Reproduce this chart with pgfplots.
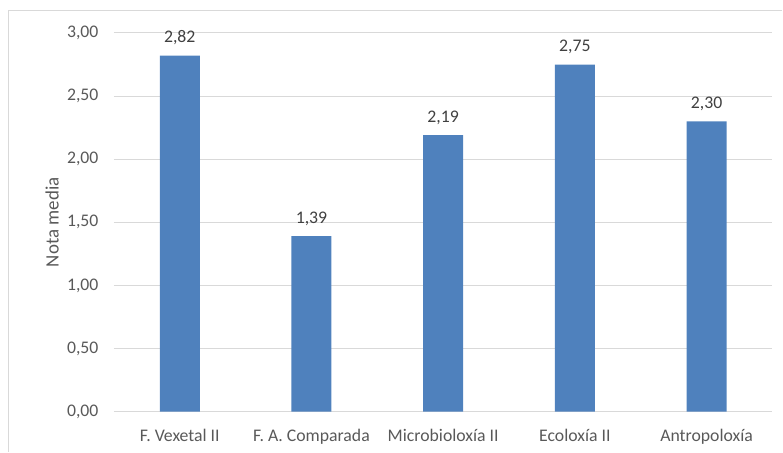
\documentclass[border=0pt]{standalone}
\usepackage{pgfplots}
\pgfplotsset{compat=1.18}
\usepackage{fontspec}
\setmainfont{Carlito}
\definecolor{barblue}{HTML}{4F81BD}
\definecolor{gridc}{HTML}{D9D9D9}
\definecolor{txt}{HTML}{595959}
\definecolor{lbl}{HTML}{404040}
\begin{document}
\begin{tikzpicture}[x=1bp,y=1bp]
\path (0,0) rectangle (783,452);
\draw[gridc, line width=1.2bp] (8.5,0) -- (8.5,441.5) -- (783,441.5);
\begin{axis}[
  at={(114bp,40bp)}, anchor=south west,
  scale only axis, width=659bp, height=379bp,
  ymin=0, ymax=3, xmin=-0.5, xmax=4.5,
  enlarge x limits=false,
  ytick={0,0.5,...,3},
  xtick=data,
  xticklabels={F. Vexetal II, F. A. Comparada, Microbioloxía II, Ecoloxía II, Antropoloxía},
  axis x line*=bottom, axis y line*=left,
  x axis line style={gridc, line width=1.2bp},
  y axis line style={draw=none},
  major tick length=0pt,
  ymajorgrids, grid style={gridc, line width=1bp},
  /pgf/number format/assume math mode=true,
  tick label style={font=\fontsize{17.8}{20}\selectfont, text=txt},
  yticklabel style={xshift=-12bp, /pgf/number format/.cd, fixed, fixed zerofill, precision=2, use comma, assume math mode=true},
  xticklabel style={yshift=-14bp},
  ylabel={Nota media},
  ylabel style={at={(axis description cs:-0.094,0.5)}, anchor=center, font=\fontsize{19}{22}\selectfont, text=txt},
  ybar, bar width=40bp,
  nodes near coords,
  nodes near coords style={font=\fontsize{17.8}{20}\selectfont, text=lbl, yshift=7bp, /pgf/number format/.cd, fixed, fixed zerofill, precision=2, use comma, assume math mode=true},
  clip=false,
]
\addplot[fill=barblue, draw=none] coordinates {(0,2.82) (1,1.39) (2,2.19) (3,2.75) (4,2.30)};
\end{axis}
\end{tikzpicture}
\end{document}
